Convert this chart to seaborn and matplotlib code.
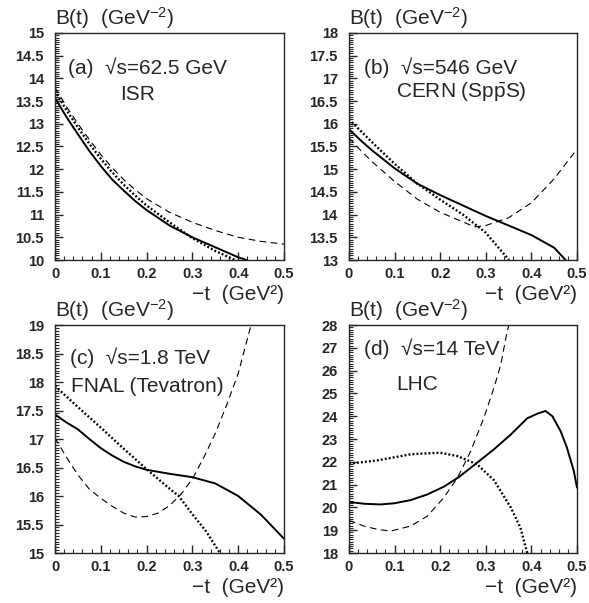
import matplotlib

matplotlib.use("Agg")

import matplotlib.pyplot as plt
import seaborn as sns
from matplotlib.ticker import FuncFormatter, MultipleLocator

# ── panel (a): sqrt(s) = 62.5 GeV, ISR
a_solid_x = [0, 0.025, 0.05, 0.075, 0.1, 0.125, 0.15, 0.175, 0.2, 0.25, 0.3, 0.35, 0.4, 0.418]
a_solid_y = [13.57, 13.15, 12.77, 12.4, 12.07, 11.77, 11.53, 11.3, 11.1, 10.76, 10.5, 10.28, 10.06, 10.0]
a_dot_x = [0, 0.025, 0.05, 0.075, 0.1, 0.125, 0.15, 0.175, 0.2, 0.25, 0.3, 0.35, 0.393]
a_dot_y = [13.72, 13.3, 12.92, 12.56, 12.23, 11.93, 11.66, 11.42, 11.2, 10.83, 10.48, 10.2, 10.0]
a_dash_x = [0, 0.025, 0.05, 0.075, 0.1, 0.125, 0.15, 0.175, 0.2, 0.25, 0.3, 0.35, 0.4, 0.45, 0.5]
a_dash_y = [13.8, 13.38, 13.0, 12.65, 12.32, 12.03, 11.77, 11.55, 11.35, 11.05, 10.83, 10.65, 10.5, 10.41, 10.35]

# ── panel (b): sqrt(s) = 546 GeV, CERN SppS
b_solid_x = [0, 0.025, 0.05, 0.1, 0.15, 0.2, 0.25, 0.3, 0.35, 0.4, 0.45, 0.475]
b_solid_y = [15.88, 15.64, 15.42, 15.02, 14.68, 14.43, 14.2, 13.97, 13.76, 13.55, 13.27, 13.0]
b_dot_x = [0, 0.05, 0.1, 0.15, 0.2, 0.25, 0.3, 0.351]
b_dot_y = [16.1, 15.6, 15.12, 14.68, 14.33, 14.0, 13.6, 13.0]
b_dash_x = [0, 0.025, 0.05, 0.1, 0.15, 0.2, 0.25, 0.275, 0.3, 0.35, 0.4, 0.45, 0.5]
b_dash_y = [15.69, 15.42, 15.17, 14.73, 14.34, 14.05, 13.84, 13.73, 13.76, 13.93, 14.26, 14.79, 15.44]

# ── panel (c): sqrt(s) = 1.8 TeV, Tevatron
c_solid_x = [0, 0.025, 0.05, 0.075, 0.1, 0.125, 0.15, 0.175, 0.2, 0.25, 0.3, 0.35, 0.4, 0.45, 0.5]
c_solid_y = [17.43, 17.29, 17.17, 17.0, 16.84, 16.71, 16.6, 16.52, 16.46, 16.39, 16.33, 16.22, 16.0, 15.67, 15.25]
c_dot_x = [0, 0.05, 0.1, 0.15, 0.2, 0.25, 0.27, 0.3, 0.33, 0.36]
c_dot_y = [17.93, 17.56, 17.2, 16.83, 16.47, 16.13, 16.0, 15.68, 15.38, 15.0]
c_dash_x = [0, 0.025, 0.05, 0.075, 0.1, 0.125, 0.15, 0.175, 0.2, 0.225, 0.25, 0.275,
            0.3, 0.325, 0.35, 0.375, 0.4, 0.428]
c_dash_y = [17.02, 16.68, 16.37, 16.12, 15.96, 15.82, 15.7, 15.63, 15.64, 15.7, 15.83, 16.03,
            16.3, 16.68, 17.1, 17.6, 18.15, 19.0]

# ── panel (d): sqrt(s) = 14 TeV, LHC
d_solid_x = [0, 0.033, 0.069, 0.099, 0.135, 0.172, 0.208, 0.241, 0.281, 0.318, 0.355,
             0.391, 0.413, 0.431, 0.446, 0.464, 0.478, 0.493, 0.5]
d_solid_y = [20.24, 20.16, 20.13, 20.18, 20.32, 20.57, 20.91, 21.33, 21.96, 22.55, 23.2,
             23.91, 24.11, 24.23, 24.0, 23.35, 22.62, 21.6, 20.87]
d_dot_x = [0, 0.062, 0.135, 0.2, 0.238, 0.281, 0.318, 0.355, 0.376, 0.391]
d_dot_y = [21.92, 22.06, 22.33, 22.4, 22.25, 21.89, 21.19, 19.99, 19.11, 18.0]
d_dash_x = [0, 0.033, 0.062, 0.091, 0.135, 0.172, 0.208, 0.238, 0.267, 0.296, 0.318, 0.333, 0.347, 0.351]
d_dash_y = [19.43, 19.18, 19.04, 18.96, 19.18, 19.62, 20.43, 21.3, 22.47, 23.94, 25.25, 26.27, 27.74, 28.0]

sns.set_theme(style="ticks")
plt.rcParams.update(
    {
        "font.family": ["Liberation Sans", "DejaVu Sans"],
        "mathtext.fontset": "custom",
        "mathtext.rm": "Liberation Sans",
        "mathtext.it": "Liberation Sans:italic",
        "mathtext.bf": "Liberation Sans:bold",
        "xtick.direction": "in",
        "ytick.direction": "in",
        "axes.linewidth": 1.0,
    }
)

SOLID = dict(color="black", linewidth=1.4, linestyle="-")
DOTTED = dict(color="black", linewidth=1.7, linestyle=(0, (0.8, 0.9)))
DASHED = dict(color="black", linewidth=0.8, linestyle=(0, (6, 4)))

panels = [
    dict(
        pos=[0.0934, 0.5688, 0.3888, 0.3765], ylim=(10, 15), major=0.5, minor=0.05,
        curves=[(a_solid_x, a_solid_y, SOLID), (a_dot_x, a_dot_y, DOTTED), (a_dash_x, a_dash_y, DASHED)],
        label=r"(a)  √s=62.5 GeV", label_xy=(0.057, 0.82),
        name="ISR", name_xy=(0.284, 0.705),
    ),
    dict(
        pos=[0.5925, 0.5688, 0.3871, 0.3765], ylim=(13, 18), major=0.5, minor=0.05,
        curves=[(b_solid_x, b_solid_y, SOLID), (b_dot_x, b_dot_y, DOTTED), (b_dash_x, b_dash_y, DASHED)],
        label=r"(b)  √s=546 GeV", label_xy=(0.066, 0.82),
        name=r"CERN (Sp$\bar{\rm p}$S)", name_xy=(0.206, 0.718),
    ),
    dict(
        pos=[0.0934, 0.0829, 0.3888, 0.3781], ylim=(15, 19), major=0.5, minor=0.05,
        curves=[(c_solid_x, c_solid_y, SOLID), (c_dot_x, c_dot_y, DOTTED), (c_dash_x, c_dash_y, DASHED)],
        label=r"(c)  √s=1.8 TeV", label_xy=(0.066, 0.829),
        name="FNAL (Tevatron)", name_xy=(0.07, 0.706),
    ),
    dict(
        pos=[0.5925, 0.0829, 0.3871, 0.3781], ylim=(18, 28), major=1, minor=0.1,
        curves=[(d_solid_x, d_solid_y, SOLID), (d_dot_x, d_dot_y, DOTTED), (d_dash_x, d_dash_y, DASHED)],
        label=r"(d)  √s=14 TeV", label_xy=(0.066, 0.868),
        name="LHC", name_xy=(0.206, 0.715),
    ),
]

fig = plt.figure(figsize=(5.89, 6.03), dpi=100)
fmt = FuncFormatter(lambda v, _: f"{v:g}")

for p in panels:
    ax = fig.add_axes(p["pos"])
    for xs, ys, style in p["curves"]:
        sns.lineplot(x=xs, y=ys, ax=ax, sort=False, **style)
    ax.set_xlim(0, 0.5)
    ax.set_ylim(*p["ylim"])
    ax.xaxis.set_major_locator(MultipleLocator(0.1))
    ax.xaxis.set_minor_locator(MultipleLocator(0.02))
    ax.yaxis.set_major_locator(MultipleLocator(p["major"]))
    ax.yaxis.set_minor_locator(MultipleLocator(p["minor"]))
    ax.xaxis.set_major_formatter(fmt)
    ax.yaxis.set_major_formatter(fmt)
    ax.tick_params(which="major", length=6, width=1.0, labelsize=10.5)
    ax.tick_params(which="minor", length=3, width=0.8)
    ax.tick_params(axis="x", pad=5)
    ax.tick_params(axis="y", pad=8)
    for lab in ax.get_xticklabels() + ax.get_yticklabels():
        lab.set_fontweight("bold")
    ax.set_xlabel("")
    ax.set_ylabel("")
    ax.text(0.0, 1.035, r"B(t)  (GeV$^{-2}$)", transform=ax.transAxes,
            ha="left", va="baseline", fontsize=15)
    ax.text(1.0, -0.175, "−t  (GeV²)", transform=ax.transAxes,
            ha="right", va="baseline", fontsize=15)
    ax.text(*p["label_xy"], p["label"], transform=ax.transAxes,
            ha="left", va="baseline", fontsize=15)
    ax.text(*p["name_xy"], p["name"], transform=ax.transAxes,
            ha="left", va="baseline", fontsize=15)

fig.savefig("out.png", dpi=100)
